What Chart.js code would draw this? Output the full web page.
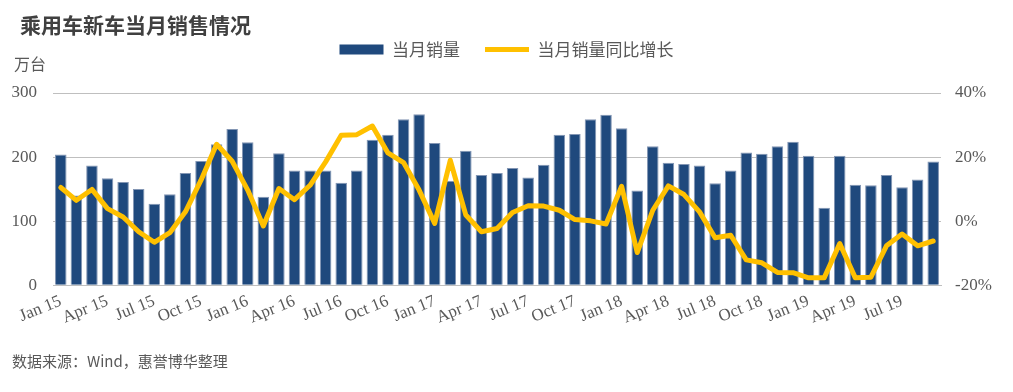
<!DOCTYPE html>
<html>
<head>
<meta charset="utf-8">
<script src="https://cdn.jsdelivr.net/npm/chart.js@4/dist/chart.umd.min.js"></script>
<style>
  body { margin: 0; background: #fff; }
  #wrap { position: relative; width: 1013px; height: 392px; overflow: hidden; }
  #chart { position: absolute; left: 0; top: 0; }
  .txt { position: absolute; font-family: "Noto Sans CJK SC", sans-serif; color: #595959; white-space: nowrap; }
  #title { left: 20px; top: 9px; font-size: 21px; font-weight: bold; color: #404040; }
  #unit { left: 14px; top: 51px; font-size: 16px; }
  #source { left: 12px; top: 350px; font-size: 15px; }
</style>
</head>
<body>
<div id="wrap">
  <canvas id="chart" width="1013" height="392"></canvas>
  <div class="txt" id="title">乘用车新车当月销售情况</div>
  <div class="txt" id="unit">万台</div>
  <div class="txt" id="source">数据来源：Wind，惠誉博华整理</div>
</div>
<script>
var months = [
  'Jan 15','Feb 15','Mar 15','Apr 15','May 15','Jun 15','Jul 15','Aug 15','Sep 15','Oct 15','Nov 15','Dec 15',
  'Jan 16','Feb 16','Mar 16','Apr 16','May 16','Jun 16','Jul 16','Aug 16','Sep 16','Oct 16','Nov 16','Dec 16',
  'Jan 17','Feb 17','Mar 17','Apr 17','May 17','Jun 17','Jul 17','Aug 17','Sep 17','Oct 17','Nov 17','Dec 17',
  'Jan 18','Feb 18','Mar 18','Apr 18','May 18','Jun 18','Jul 18','Aug 18','Sep 18','Oct 18','Nov 18','Dec 18',
  'Jan 19','Feb 19','Mar 19','Apr 19','May 19','Jun 19','Jul 19','Aug 19','Sep 19'
];

// 当月销量 (万台)
var sales = [
  204, 140, 187, 167, 161, 150, 127, 142, 175, 194, 220, 244,
  223, 138, 206, 179, 179, 179, 160, 179, 227, 235, 259, 267,
  222, 163, 210, 172, 175, 183, 168, 188, 235, 236, 259, 266,
  245, 148, 217, 191, 189, 187, 159, 179, 207, 205, 217, 224,
  202, 121, 202, 157, 156, 172, 153, 165, 193
];

// 当月销量同比增长 (%)
var yoy = [
  10.5, 6.5, 9.9, 3.9, 1.3, -3.3, -6.6, -3.6, 2.9, 12.8, 24.0, 18.7,
  9.7, -1.5, 10.2, 6.7, 11.2, 18.5, 26.8, 27.0, 29.7, 21.3, 18.3, 9.7,
  -0.7, 19.0, 1.9, -3.3, -2.3, 2.7, 4.8, 4.7, 3.4, 0.5, 0.1, -0.9,
  10.9, -9.8, 3.4, 11.0, 8.3, 2.9, -5.2, -4.4, -12.1, -13.0, -16.0, -16.1,
  -17.7, -17.7, -7.0, -17.7, -17.5, -7.7, -4.0, -7.7, -6.2
];

var leftTicks = [0, 100, 200, 300];
var rightTicks = [-20, 0, 20, 40];

var barColor = '#1F497D';
var lineColor = '#FFC000';
var tickFont = { family: '"Liberation Serif", serif', size: 17 };

// push the plot area down below the legend
var legendGap = {
  id: 'legendGap',
  beforeInit: function(chart) {
    var fit = chart.legend.fit;
    chart.legend.fit = function() {
      fit.bind(chart.legend)();
      this.height += 25;
    };
  }
};

var ctx = document.getElementById('chart');
var chart = new Chart(ctx, {
  type: 'bar',
  data: {
    labels: months,
    datasets: [{
      type: 'bar',
      label: '当月销量',
      data: sales,
      yAxisID: 'y',
      backgroundColor: barColor,
      borderColor: '#8396b4',
      borderWidth: 1,
      barPercentage: 0.74,
      categoryPercentage: 1,
      order: 2
    }, {
      type: 'line',
      label: '当月销量同比增长',
      data: yoy,
      yAxisID: 'y1',
      borderColor: lineColor,
      backgroundColor: lineColor,
      borderWidth: 5,
      pointRadius: 0,
      tension: 0,
      borderJoinStyle: 'round',
      borderCapStyle: 'round',
      order: 1
    }]
  },
  options: {
    responsive: false,
    animation: false,
    layout: { padding: { top: 16, bottom: 58, left: 0, right: 0 } },
    plugins: {
      tooltip: { enabled: false },
      legend: {
        position: 'top',
        labels: {
          usePointStyle: true,
          pointStyleWidth: 44,
          boxHeight: 10,
          padding: 25,
          color: '#595959',
          font: { family: '"Noto Sans CJK SC", sans-serif', size: 17 },
          sort: function(a, b) { return a.datasetIndex - b.datasetIndex; },
          generateLabels: function(chart) {
            return chart.data.datasets.map(function(ds, i) {
              var isLine = ds.type === 'line';
              return {
                text: ds.label,
                datasetIndex: i,
                fillStyle: isLine ? lineColor : barColor,
                strokeStyle: isLine ? lineColor : barColor,
                lineWidth: isLine ? 5 : 0,
                pointStyle: isLine ? 'line' : 'rect',
                fontColor: '#595959',
                hidden: false
              };
            });
          }
        }
      }
    },
    scales: {
      x: {
        grid: { display: false, drawTicks: false },
        border: { display: true, color: '#BFBFBF' },
        ticks: {
          autoSkip: false,
          minRotation: 22,
          maxRotation: 22,
          padding: 6,
          color: '#595959',
          font: tickFont,
          callback: function(v, i) { return i % 3 === 0 ? months[i] : ''; }
        }
      },
      y: {
        position: 'left',
        min: 0,
        max: 300,
        afterBuildTicks: function(s) { s.ticks = leftTicks.map(function(v) { return { value: v }; }); },
        afterFit: function(s) { s.width = 53; },
        grid: { color: '#BFBFBF', drawTicks: false },
        border: { display: false },
        ticks: { padding: 16, color: '#595959', font: tickFont }
      },
      y1: {
        position: 'right',
        min: -20,
        max: 40,
        afterBuildTicks: function(s) { s.ticks = rightTicks.map(function(v) { return { value: v }; }); },
        afterFit: function(s) { s.width = 72; },
        grid: { display: false, drawTicks: false },
        border: { display: false },
        ticks: {
          padding: 14,
          color: '#595959',
          font: tickFont,
          callback: function(v) { return v + '%'; }
        }
      }
    }
  },
  plugins: [legendGap]
});
</script>
</body>
</html>
